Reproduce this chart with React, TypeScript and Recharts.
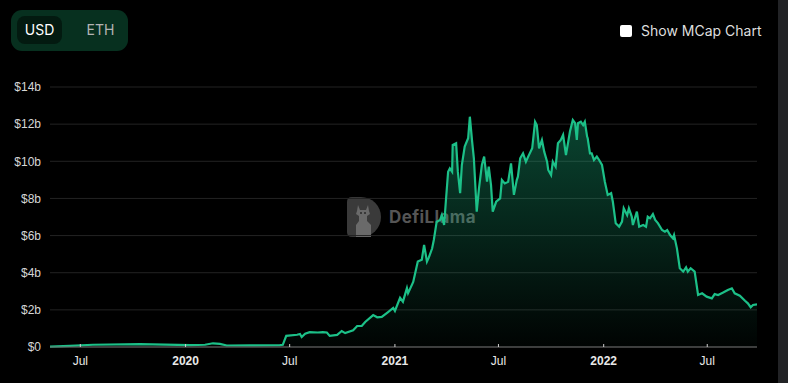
import React from "react";
import { AreaChart, Area, XAxis, YAxis, CartesianGrid } from "recharts";

const dates: string[] = [
  "2019-05-09", "2019-06-13", "2019-07-23", "2019-10-13", "2020-01-09", "2020-02-04",
  "2020-02-18", "2020-03-01", "2020-03-13", "2020-04-23", "2020-06-14", "2020-06-19",
  "2020-06-25", "2020-07-14", "2020-07-19", "2020-07-22", "2020-07-28", "2020-08-05",
  "2020-08-19", "2020-08-28", "2020-09-04", "2020-09-09", "2020-09-22", "2020-09-30",
  "2020-10-06", "2020-10-20", "2020-10-27", "2020-11-04", "2020-11-10", "2020-11-24",
  "2020-12-01", "2020-12-09", "2020-12-20", "2020-12-29", "2021-01-01", "2021-01-10",
  "2021-01-15", "2021-01-22", "2021-01-24", "2021-02-02", "2021-02-10", "2021-02-17",
  "2021-02-21", "2021-02-26", "2021-03-01", "2021-03-07", "2021-03-10", "2021-03-15",
  "2021-03-21", "2021-03-24", "2021-03-28", "2021-03-31", "2021-04-04", "2021-04-07",
  "2021-04-11", "2021-04-12", "2021-04-18", "2021-04-21", "2021-04-25", "2021-04-28",
  "2021-05-03", "2021-05-09", "2021-05-12", "2021-05-16", "2021-05-19", "2021-05-24",
  "2021-05-28", "2021-06-02", "2021-06-06", "2021-06-11", "2021-06-14", "2021-06-18",
  "2021-06-21", "2021-06-27", "2021-07-04", "2021-07-07", "2021-07-12", "2021-07-18",
  "2021-07-23", "2021-07-28", "2021-08-02", "2021-08-04", "2021-08-08", "2021-08-13",
  "2021-08-18", "2021-08-22", "2021-08-29", "2021-09-03", "2021-09-06", "2021-09-10",
  "2021-09-15", "2021-09-19", "2021-09-24", "2021-09-26", "2021-10-01", "2021-10-04",
  "2021-10-09", "2021-10-13", "2021-10-18", "2021-10-22", "2021-10-27", "2021-10-31",
  "2021-11-03", "2021-11-08", "2021-11-12", "2021-11-15", "2021-11-17", "2021-11-22",
  "2021-11-26", "2021-11-29", "2021-12-03", "2021-12-04", "2021-12-08", "2021-12-11",
  "2021-12-15", "2021-12-20", "2021-12-24", "2021-12-29", "2022-01-03", "2022-01-08",
  "2022-01-14", "2022-01-17", "2022-01-22", "2022-01-28", "2022-02-02", "2022-02-05",
  "2022-02-11", "2022-02-14", "2022-02-19", "2022-02-21", "2022-02-28", "2022-03-04",
  "2022-03-11", "2022-03-16", "2022-03-19", "2022-03-23", "2022-03-28", "2022-04-01",
  "2022-04-06", "2022-04-13", "2022-04-18", "2022-04-22", "2022-04-27", "2022-05-02",
  "2022-05-04", "2022-05-09", "2022-05-14", "2022-05-20", "2022-05-25", "2022-05-28",
  "2022-06-02", "2022-06-09", "2022-06-15", "2022-06-22", "2022-06-30", "2022-07-09",
  "2022-07-14", "2022-07-20", "2022-07-28", "2022-08-06", "2022-08-13", "2022-08-18",
  "2022-08-27", "2022-09-05", "2022-09-10", "2022-09-15", "2022-09-19", "2022-09-26",
];

const tvlBillions: number[] = [
  0.02, 0.06, 0.12, 0.15, 0.1, 0.12,
  0.2, 0.17, 0.08, 0.09, 0.1, 0.12,
  0.6, 0.66, 0.7, 0.54, 0.72, 0.8,
  0.78, 0.8, 0.78, 0.6, 0.65, 0.86,
  0.75, 0.9, 1.13, 1.13, 1.35, 1.72,
  1.6, 1.62, 1.88, 2.1, 1.94, 2.65,
  2.44, 3.17, 2.9, 3.5, 4.6, 4.7,
  5.5, 4.6, 4.8, 5.3, 5.76, 6.75,
  6.84, 7.1, 6.57, 7.82, 9.44, 9.62,
  9.44, 10.88, 10.97, 9.44, 8.28, 9.8,
  10.79, 11.24, 12.4, 11.06, 10.16, 7.29,
  8.55, 9.8, 10.25, 8.9, 9.71, 8.72,
  7.29, 7.82, 8.0, 8.99, 8.81, 8.9,
  9.89, 8.19, 8.99, 9.17, 10.16, 10.43,
  9.98, 10.25, 10.7, 12.13, 11.95, 10.7,
  11.15, 10.52, 9.98, 9.53, 9.26, 9.98,
  9.71, 10.97, 11.15, 11.42, 10.34, 11.06,
  11.6, 12.22, 12.05, 11.15, 12.05, 12.13,
  11.95, 12.13, 11.33, 11.24, 10.43, 10.43,
  10.07, 10.25, 10.07, 9.8, 8.9, 8.19,
  8.28, 7.82, 6.66, 6.48, 6.75, 7.47,
  7.1, 7.47, 7.02, 6.57, 7.29, 6.48,
  6.57, 6.48, 7.02, 6.93, 7.16, 6.84,
  6.66, 6.3, 6.21, 6.3, 6.03, 5.85,
  6.03, 5.31, 4.24, 4.06, 4.29, 4.06,
  4.24, 4.06, 2.8, 2.89, 2.71, 2.62,
  2.85, 2.8, 2.92, 3.07, 3.16, 2.89,
  2.76, 2.49, 2.35, 2.14, 2.26, 2.3,
];

const xTickDates: string[] = ["2019-07-01", "2020-01-01", "2020-07-01", "2021-01-01", "2021-07-01", "2022-01-01", "2022-07-01"];
const xTickLabels: string[] = ["Jul", "2020", "Jul", "2021", "Jul", "2022", "Jul"];
const yTicksBillions: number[] = [0, 2, 4, 6, 8, 10, 12, 14];
const domainDates: string[] = ["2019-05-09", "2022-09-26"];

const data = dates.map((d, i) => ({ t: Date.parse(d), v: tvlBillions[i] * 1e9 }));
const xTicks = xTickDates.map((d) => Date.parse(d));
const yTicks = yTicksBillions.map((b) => b * 1e9);

const GREEN = "#1cc088";
const TICK_FONT = "'Liberation Sans', Arial, sans-serif";

const XTick = (props: any) => {
  const { x, y, payload } = props;
  const idx = xTicks.indexOf(payload.value);
  const label = idx >= 0 ? xTickLabels[idx] : "";
  const bold = /^\d{4}$/.test(label);
  return (
    <g>
      <line x1={x} x2={x} y1={y - 3} y2={y} stroke="#cfcfcf" strokeWidth={1} />
      <text x={x} y={y + 18} textAnchor="middle" fill="#e8e8e8" fontSize={12} fontWeight={bold ? 700 : 400} fontFamily={TICK_FONT}>
        {label}
      </text>
    </g>
  );
};

const Watermark = () => (
  <div style={{ position: "absolute", left: 347, top: 197, display: "flex", alignItems: "center" }}>
    <svg width={34} height={40} viewBox="0 0 34 40">
      <path d="M0 5 Q0 0 5 0 H14 A20 20 0 0 1 14 40 H5 Q0 40 0 35 Z" fill="#3a3a3a" />
      <path d="M11 8 L13 13 L19 13 L21 8 L22 14 L23 17 L20 19 L20 24 L24 28 L24 40 L9 40 L9 28 L12 24 L12 19 L9 17 L10 14 Z" fill="#6a6a6a" />
      <circle cx={14} cy={16} r={1} fill="#2a2a2a" />
      <circle cx={18} cy={16} r={1} fill="#2a2a2a" />
    </svg>
    <span style={{ marginLeft: 8, fontFamily: "Inter, sans-serif", fontWeight: 700, fontSize: 17, color: "#555555", letterSpacing: 0.4 }}>
      DefiLlama
    </span>
  </div>
);

export default function App() {
  return (
    <div style={{ position: "absolute", left: 0, top: 0, width: 788, height: 383, background: "#000000", overflow: "hidden" }}>
      {/* Currency toggle */}
      <div style={{ position: "absolute", left: 11, top: 10, width: 117, height: 41, borderRadius: 11, background: "#07301f" }} />
      <div style={{ position: "absolute", left: 17, top: 16, width: 45, height: 28, borderRadius: 8, background: "#031a10" }} />
      <div style={{ position: "absolute", left: 17, top: 16, width: 45, height: 28, lineHeight: "28px", textAlign: "center", fontFamily: "Inter, sans-serif", fontSize: 14, color: "#ffffff" }}>USD</div>
      <div style={{ position: "absolute", left: 78, top: 16, width: 45, height: 28, lineHeight: "28px", textAlign: "center", fontFamily: "Inter, sans-serif", fontSize: 14, color: "#b4b4b4" }}>ETH</div>

      {/* Checkbox */}
      <div style={{ position: "absolute", left: 620, top: 25, width: 12, height: 12, background: "#ffffff", borderRadius: 2 }} />
      <div style={{ position: "absolute", left: 641, top: 21, height: 20, lineHeight: "20px", fontFamily: "Inter, sans-serif", fontSize: 14, color: "#dedede", whiteSpace: "nowrap" }}>Show MCap Chart</div>

      {/* Right scrollbar strip */}
      <div style={{ position: "absolute", left: 778, top: 0, width: 10, height: 383, background: "#222326" }} />

      <Watermark />

      <div style={{ position: "absolute", left: 0, top: 0 }}>
        <AreaChart width={788} height={383} data={data} margin={{ top: 87, right: 31, bottom: 0, left: 0 }}>
          <defs>
            <linearGradient id="tvlFill" x1="0" y1="0" x2="0" y2="1">
              <stop offset="0%" stopColor={GREEN} stopOpacity={0.6} />
              <stop offset="100%" stopColor={GREEN} stopOpacity={0.03} />
            </linearGradient>
          </defs>
          <CartesianGrid vertical={false} stroke="#232323" strokeWidth={1} />
          <XAxis
            dataKey="t"
            type="number"
            scale="linear"
            domain={[Date.parse(domainDates[0]), Date.parse(domainDates[1])]}
            ticks={xTicks}
            tick={<XTick />}
            tickLine={false}
            tickSize={0}
            tickMargin={0}
            height={36}
            axisLine={{ stroke: "#6a6a6a", strokeWidth: 1 }}
            interval={0}
            allowDataOverflow
          />
          <YAxis
            type="number"
            domain={[0, 14e9]}
            ticks={yTicks}
            width={50}
            axisLine={false}
            tickLine={false}
            tickSize={0}
            tickMargin={9}
            interval={0}
            tick={{ fill: "#d6d6d6", fontSize: 12, fontFamily: TICK_FONT }}
            tickFormatter={(v: number) => (v === 0 ? "$0" : `$${v / 1e9}b`)}
          />
          <Area
            type="linear"
            dataKey="v"
            stroke={GREEN}
            strokeWidth={2.2}
            fill="url(#tvlFill)"
            dot={false}
            activeDot={false}
            isAnimationActive={false}
          />
        </AreaChart>
      </div>
    </div>
  );
}
